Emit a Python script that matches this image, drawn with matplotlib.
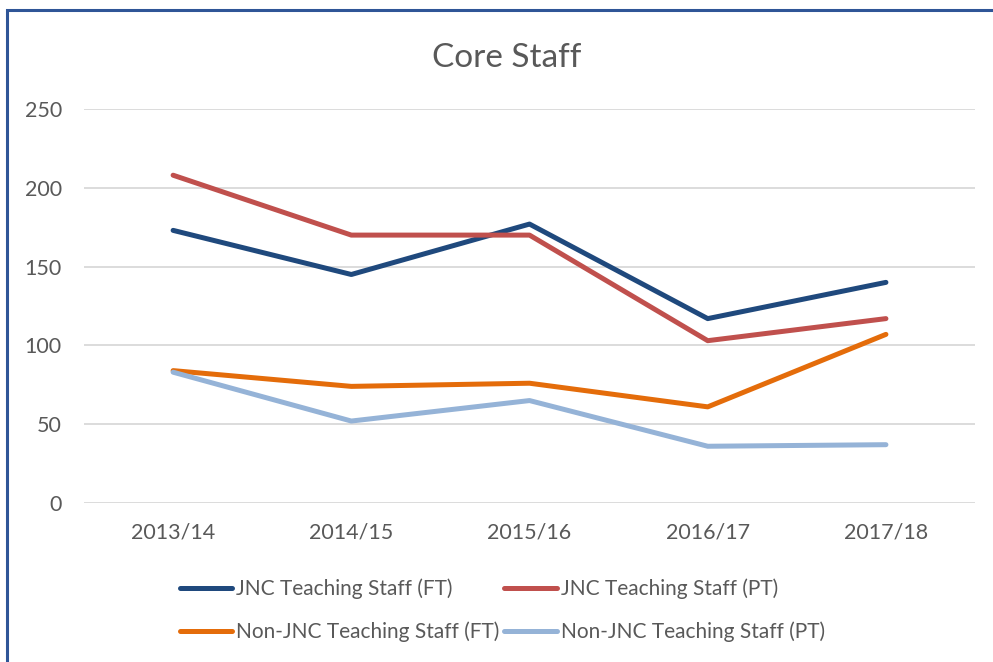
import matplotlib.pyplot as plt
from matplotlib.patches import Rectangle

# Data
years = ['2013/14', '2014/15', '2015/16', '2016/17', '2017/18']
jnc_ft = [173, 145, 177, 117, 140]
jnc_pt = [208, 170, 170, 103, 117]
non_jnc_ft = [84, 74, 76, 61, 107]
non_jnc_pt = [83, 52, 65, 36, 37]

plt.rcParams['font.family'] = ['Lato', 'DejaVu Sans']
text_col = '#595959'

fig = plt.figure(figsize=(9.93, 6.62), dpi=100)
ax = fig.add_axes([0.0846, 0.2402, 0.8973, 0.5951])

x = range(len(years))
l1, = ax.plot(x, jnc_ft, color='#1f497d', lw=3.6, solid_capstyle='round', label='JNC Teaching Staff (FT)')
l2, = ax.plot(x, jnc_pt, color='#c0504d', lw=3.6, solid_capstyle='round', label='JNC Teaching Staff (PT)')
l3, = ax.plot(x, non_jnc_ft, color='#e46c0a', lw=3.6, solid_capstyle='round', label='Non-JNC Teaching Staff (FT)')
l4, = ax.plot(x, non_jnc_pt, color='#95b3d7', lw=3.6, solid_capstyle='round', label='Non-JNC Teaching Staff (PT)')

ax.set_xlim(-0.5, len(years) - 0.5)
ax.set_ylim(0, 250)
ax.set_yticks(range(0, 251, 50))
ax.set_xticks(list(x))
ax.set_xticklabels(years)
ax.yaxis.grid(True, color='#d9d9d9', lw=1.3)
ax.set_axisbelow(True)
for s in ax.spines.values():
    s.set_visible(False)
ax.tick_params(length=0, labelsize=15.5, colors=text_col)
ax.tick_params(axis='y', pad=16)
ax.tick_params(axis='x', pad=14)

fig.text(0.51, 0.912, 'Core Staff', ha='center', va='center', fontsize=24, color=text_col)

# Legend: two rows, filled column by column
handles = [l1, l3, l2, l4]
fig.legend(handles, [h.get_label() for h in handles], ncol=2, loc='center left',
           bbox_to_anchor=(0.162, 0.078), frameon=False,
           fontsize=15, labelcolor=text_col, handlelength=2.5, handletextpad=0.2,
           columnspacing=0.25, labelspacing=1.1)

# chart frame
fig.patches.append(Rectangle((7 / 993, -0.05), 1.2, 1 - 10 / 662 + 0.05, transform=fig.transFigure,
                             fill=False, edgecolor='#2f5597', lw=2.2))

fig.savefig('out.png', dpi=100)
